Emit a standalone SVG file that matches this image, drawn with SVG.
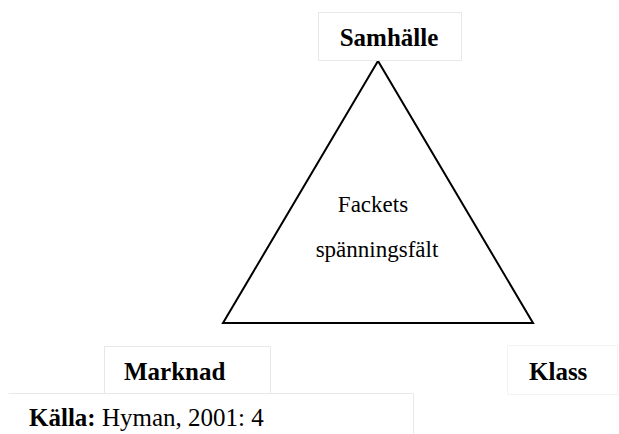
<svg xmlns="http://www.w3.org/2000/svg" width="619" height="434" viewBox="0 0 619 434">
<style>
.box{fill:#ffffff;stroke:#e8e8e8;stroke-width:1}
.faint{fill:#ffffff;stroke:#f3f3f3;stroke-width:1}
.lbl{font-family:"Liberation Serif","Times New Roman",serif;font-size:25px;font-weight:bold;fill:#000}
.txt{font-family:"Liberation Serif","Times New Roman",serif;font-size:23px;fill:#000}
.edge{fill:none;stroke:#000;stroke-width:2;stroke-linejoin:miter}
</style>
<rect width="619" height="434" fill="#ffffff"/>
<g id="connectors">
<polygon class="edge" points="378,61 223,323 533,323"/>
</g>
<g id="node-samhalle">
<rect class="box" x="318.5" y="12.5" width="143" height="48"/>
<text class="lbl" x="389" y="46" text-anchor="middle">Samhälle</text>
</g>
<g id="node-center">
<text class="txt" x="373" y="212" text-anchor="middle">Fackets</text>
<text class="txt" x="377" y="257" text-anchor="middle">spänningsfält</text>
</g>
<g id="node-marknad">
<rect class="box" x="104.5" y="346.5" width="166" height="47"/>
<text class="lbl" x="124" y="380">Marknad</text>
</g>
<g id="node-klass">
<rect class="faint" x="507.5" y="345.5" width="110" height="49"/>
<text class="lbl" x="529" y="380">Klass</text>
</g>
<g id="node-source">
<path class="box" d="M8.5,393.5 H413.5 V434" fill="none"/>
<text class="txt" x="29" y="426" style="font-size:25px"><tspan font-weight="bold">Källa:</tspan> Hyman, 2001: 4</text>
</g>
</svg>
